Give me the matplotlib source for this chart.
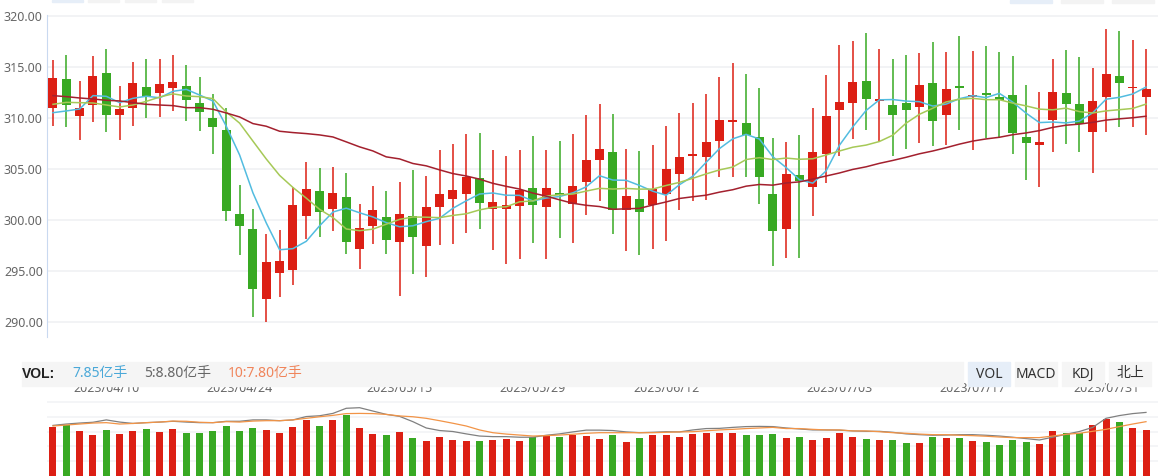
import numpy as np
import pandas as pd
import matplotlib
matplotlib.use('Agg')
import matplotlib.pyplot as plt
import matplotlib.transforms as mtransforms
from matplotlib.patches import Rectangle

plt.rcParams['font.family'] = ['Noto Sans', 'Noto Sans CJK SC', 'DejaVu Sans']

# trading days 2023-04-03 .. 2023-08-03 (exchange holidays removed)
holidays = ['2023-04-05', '2023-05-01', '2023-05-02', '2023-05-03', '2023-06-22', '2023-06-23']
dates = pd.bdate_range('2023-04-03', '2023-08-03')
dates = dates[~dates.isin(pd.to_datetime(holidays))]
tick_dates = ['2023-04-10', '2023-04-24', '2023-05-15', '2023-05-29',
              '2023-06-12', '2023-07-03', '2023-07-17', '2023-07-31']

opens = [310.94, 313.81, 310.16, 311.23, 314.33, 310.26, 310.94, 312.96, 312.41, 312.89,
         313.12, 311.46, 309.99, 308.76, 300.54, 299.04, 292.26, 294.80, 295.10, 300.38,
         302.79, 301.06, 302.20, 297.15, 299.40, 300.25, 297.84, 300.35, 297.44, 301.19,
         302.04, 302.50, 304.09, 301.06, 301.06, 301.36, 303.08, 301.26, 302.59, 301.58,
         303.70, 305.85, 306.60, 300.96, 302.01, 301.45, 302.53, 304.49, 306.25, 306.15,
         307.71, 309.57, 309.44, 308.07, 302.50, 299.11, 304.35, 303.21, 306.44, 310.74,
         311.43, 313.54, 311.66, 311.20, 311.39, 311.04, 313.35, 310.25, 312.95, 312.01,
         312.37, 311.98, 312.18, 308.07, 307.32, 309.77, 312.37, 311.30, 308.59, 312.01,
         314.04, 312.86, 312.01]
closes = [313.91, 311.23, 310.97, 314.04, 310.26, 310.81, 313.35, 312.01, 313.25, 313.45,
          311.75, 310.58, 309.08, 300.87, 299.40, 293.18, 295.84, 295.95, 301.42, 302.99,
          300.77, 302.59, 297.84, 299.17, 300.93, 298.03, 300.54, 298.32, 301.19, 302.56,
          302.95, 304.19, 301.65, 301.71, 301.45, 302.89, 301.45, 303.08, 302.43, 303.28,
          305.82, 306.90, 300.96, 302.30, 300.77, 302.99, 304.94, 306.11, 306.44, 307.58,
          309.73, 309.73, 308.30, 304.13, 298.91, 304.45, 303.77, 306.60, 310.12, 311.49,
          313.45, 311.82, 311.82, 310.25, 310.74, 313.16, 309.67, 312.76, 312.93, 312.21,
          312.21, 311.75, 308.49, 307.52, 307.58, 312.47, 311.33, 309.37, 311.59, 314.23,
          313.39, 312.96, 312.76]
highs = [315.67, 316.09, 313.55, 315.99, 316.68, 313.06, 315.41, 315.70, 315.70, 316.09,
         315.11, 314.00, 312.28, 310.97, 303.38, 301.00, 298.59, 298.98, 303.21, 305.66,
         305.07, 305.17, 304.58, 301.55, 303.31, 302.79, 303.64, 304.84, 304.26, 306.80,
         307.39, 308.36, 308.46, 306.80, 306.25, 306.80, 308.17, 306.80, 307.68, 308.36,
         310.22, 311.30, 310.32, 306.90, 306.70, 307.29, 309.15, 310.42, 311.39, 312.28,
         313.94, 315.31, 314.23, 312.86, 308.00, 307.58, 308.27, 310.91, 314.13, 317.07,
         317.46, 318.24, 316.68, 315.70, 316.09, 316.28, 317.36, 316.38, 317.95, 316.48,
         316.97, 316.38, 315.99, 313.16, 312.47, 315.70, 316.58, 315.89, 314.82, 318.63,
         318.44, 317.56, 316.68]
lows = [309.15, 309.08, 307.78, 309.57, 308.59, 307.78, 309.15, 309.96, 310.06, 310.65,
        309.67, 308.72, 306.44, 299.89, 296.53, 290.50, 290.01, 292.46, 293.60, 298.10,
        298.32, 298.88, 296.66, 295.16, 297.64, 296.66, 292.52, 294.71, 294.41, 297.51,
        297.61, 298.72, 299.07, 297.02, 295.65, 296.14, 297.74, 296.14, 298.19, 297.74,
        300.48, 301.84, 298.62, 296.92, 296.53, 297.12, 297.93, 300.96, 301.84, 301.94,
        304.19, 304.19, 304.19, 301.55, 295.49, 296.27, 296.27, 300.38, 303.60, 306.25,
        307.91, 308.79, 307.71, 306.25, 306.93, 307.52, 307.22, 307.32, 308.79, 306.83,
        308.00, 308.10, 306.44, 303.90, 303.21, 306.64, 307.42, 306.64, 304.58, 308.59,
        309.08, 309.08, 308.30]

# moving averages before enough closes are on screen
ma5_head = [310.48, 310.65, 310.84, 312.15]
ma10_head = [311.30, 311.49, 311.46, 311.43, 311.23, 311.04, 311.23, 311.59, 312.01]
ma30_head = [312.15, 312.05, 311.92, 311.82, 311.69, 311.63, 311.46, 311.30, 311.23, 311.17,
             310.97, 310.97, 310.81, 310.45, 310.06, 309.41, 309.15, 308.66, 308.53, 308.43,
             308.30, 308.10, 307.62, 307.13, 306.73, 306.15, 305.95, 305.50, 305.27]

# volume, 亿手
volumes = [8.04, 8.12, 7.83, 7.61, 7.87, 7.66, 7.82, 7.92, 7.77, 7.92,
           7.72, 7.72, 7.82, 8.07, 7.82, 7.97, 7.87, 7.72, 8.02, 8.38,
           8.07, 8.38, 8.63, 7.97, 7.66, 7.61, 7.78, 7.46, 7.32, 7.51,
           7.36, 7.31, 7.31, 7.36, 7.41, 7.31, 7.51, 7.56, 7.51, 7.61,
           7.56, 7.41, 7.61, 7.26, 7.46, 7.61, 7.61, 7.51, 7.66, 7.72,
           7.72, 7.72, 7.61, 7.61, 7.66, 7.46, 7.51, 7.36, 7.46, 7.72,
           7.51, 7.41, 7.36, 7.36, 7.21, 7.21, 7.51, 7.46, 7.46, 7.31,
           7.26, 7.11, 7.36, 7.26, 7.16, 7.82, 7.72, 7.72, 8.12, 8.43,
           8.27, 7.97, 7.85]
vol_ma5 = [8.10, 8.17, 8.22, 8.26, 8.38, 8.27, 8.20, 8.24, 8.27, 8.31,
           8.27, 8.24, 8.24, 8.31, 8.31, 8.38, 8.38, 8.34, 8.38, 8.55,
           8.59, 8.71, 8.97, 9.00, 8.83, 8.66, 8.56, 8.29, 7.97, 7.84,
           7.79, 7.67, 7.56, 7.53, 7.53, 7.50, 7.50, 7.60, 7.67, 7.77,
           7.86, 7.86, 7.84, 7.77, 7.73, 7.75, 7.78, 7.77, 7.87, 7.94,
           7.95, 8.00, 8.04, 8.05, 8.04, 7.97, 7.92, 7.87, 7.87, 7.86,
           7.82, 7.80, 7.80, 7.75, 7.67, 7.63, 7.60, 7.61, 7.63, 7.63,
           7.60, 7.56, 7.50, 7.43, 7.36, 7.50, 7.65, 7.79, 8.00, 8.46,
           8.60, 8.70, 8.76]
vol_ma10 = [8.07, 8.12, 8.17, 8.22, 8.24, 8.17, 8.20, 8.24, 8.27, 8.32,
            8.31, 8.26, 8.24, 8.29, 8.27, 8.32, 8.34, 8.34, 8.38, 8.46,
            8.54, 8.61, 8.70, 8.71, 8.70, 8.66, 8.58, 8.54, 8.46, 8.34,
            8.21, 8.07, 7.87, 7.73, 7.66, 7.61, 7.56, 7.58, 7.61, 7.65,
            7.70, 7.73, 7.73, 7.73, 7.73, 7.73, 7.75, 7.77, 7.78, 7.83,
            7.87, 7.90, 7.94, 7.97, 8.00, 7.94, 7.94, 7.90, 7.87, 7.87,
            7.82, 7.82, 7.78, 7.73, 7.70, 7.66, 7.63, 7.63, 7.60, 7.58,
            7.55, 7.51, 7.48, 7.48, 7.48, 7.56, 7.65, 7.70, 7.80, 7.90,
            8.04, 8.17, 8.29]
vol_header = ['7.85亿手', '5:8.80亿手', '10:7.80亿手']
buttons = ['VOL', 'MACD', 'KDJ', '北上']

RED, GREEN = '#dc1f14', '#38a923'
W, H = 1162, 476


def fx(px):
    return px / W


def fy(py):
    return 1 - py / H


o = np.array(opens)
c = np.array(closes)
x = np.arange(len(c))
up = c >= o
colors = np.where(up, RED, GREEN)

s = pd.Series(c)
ma5 = s.rolling(5).mean().to_numpy()
ma5[:4] = ma5_head
ma10 = s.rolling(10).mean().to_numpy()
ma10[:9] = ma10_head
ma30 = s.rolling(30).mean().to_numpy()
ma30[:29] = ma30_head

fig = plt.figure(figsize=(W / 100, H / 100), dpi=100)

# ---- price panel
ax = fig.add_axes([fx(47), fy(337), (1158 - 47) / W, (337 - 15) / H])
ax.set_xlim(-0.45, 82.9)
ax.set_ylim(288.5, 320.05)
ax.set_yticks(np.arange(290, 321, 5))
ax.set_yticklabels(['%.2f' % v for v in np.arange(290, 321, 5)])
ax.tick_params(axis='y', length=0, pad=3, labelsize=9, labelcolor='#666666')
ax.set_xticks([])
ax.grid(axis='y', color='#f1f2f5', lw=1.3)
ax.set_axisbelow(True)
for side in ['top', 'right', 'bottom']:
    ax.spines[side].set_visible(False)
ax.spines['left'].set_color('#c9d9f0')

ax.vlines(x, lows, highs, colors=colors, lw=1.1, zorder=2)
ax.bar(x, np.maximum(np.abs(c - o), 0.13), bottom=np.minimum(o, c),
       width=0.675, color=colors, zorder=3)
ax.plot(x, ma5, color='#52bce0', lw=1.1, zorder=4)
ax.plot(x, ma10, color='#a6c957', lw=1.1, zorder=4)
ax.plot(x, ma30, color='#a3202e', lw=1.1, zorder=4)

# ---- volume panel (cut by the bottom edge)
vax = fig.add_axes([fx(47), 0, (1158 - 47) / W, (476 - 395) / H])
vax.set_xlim(-0.45, 82.9)
vax.set_ylim(5.53, 9.645)
vax.set_xticks([])
vax.set_yticks(np.arange(6.29, 9.4, 0.75))
vax.tick_params(axis='y', length=0, labelleft=False)
vax.grid(axis='y', color='#f1f2f5', lw=1.1)
vax.set_axisbelow(True)
for side in vax.spines:
    vax.spines[side].set_visible(False)
vax.bar(x, volumes, width=0.525, color=colors, zorder=2)
vax.plot(x, vol_ma5, color='#808080', lw=0.9, zorder=3)
vax.plot(x, vol_ma10, color='#f29447', lw=0.9, zorder=3)

# date labels, partly hidden under the header band
trans = mtransforms.blended_transform_factory(vax.transData, fig.transFigure)
for d in tick_dates:
    i = dates.get_loc(pd.Timestamp(d))
    fig.text(i, fy(391.5), d.replace('-', '/'), transform=trans, ha='center',
             va='baseline', fontsize=9, color='#666666', zorder=1)

# header band
fig.add_artist(Rectangle((fx(22), fy(386)), (963 - 22) / W, 24 / H,
                         transform=fig.transFigure, color='#f5f5f5', zorder=2))
fig.text(fx(22), fy(374), 'VOL:', fontsize=10, fontweight='bold', color='#222222',
         family=['Liberation Sans', 'DejaVu Sans'], va='center', zorder=3)
for txt, px, col in zip(vol_header, [72, 144, 228], ['#4aa8d8', '#666666', '#f0845a']):
    fig.text(fx(px), fy(374), txt, fontsize=10, color=col, va='center', zorder=3)

bx = [968, 1015, 1062, 1109]
for k, (b, px) in enumerate(zip(buttons, bx)):
    fig.add_artist(Rectangle((fx(px), fy(386)), 42 / W, 24 / H, transform=fig.transFigure,
                             color='#e6eef8' if k == 0 else '#f5f5f5', zorder=2))
    fig.text(fx(px + 21), fy(374), b, fontsize=10, color='#333333', ha='center',
             va='center', zorder=3)

# tabs peeking in at the top edge
for k, px in enumerate([52, 88, 125, 162]):
    fig.add_artist(Rectangle((fx(px), fy(2)), 31 / W, 2 / H, transform=fig.transFigure,
                             color='#e6eef8' if k == 0 else '#f3f3f3', zorder=2))
for k, px in enumerate([1010, 1061, 1112]):
    fig.add_artist(Rectangle((fx(px), fy(3)), 42 / W, 3 / H, transform=fig.transFigure,
                             color='#e6eef8' if k == 0 else '#f3f3f3', zorder=2))

fig.savefig('out.png', dpi=100)
